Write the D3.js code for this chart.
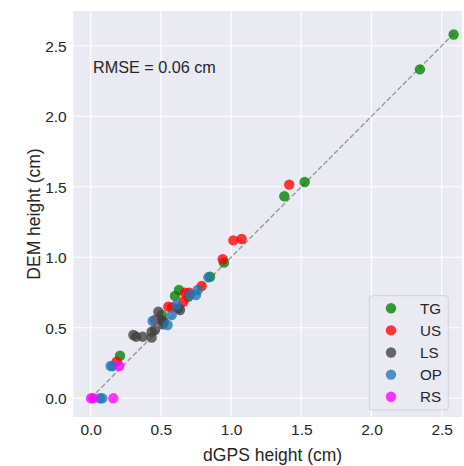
<!DOCTYPE html>
<html>
<head>
<meta charset="utf-8">
<script src="https://cdn.jsdelivr.net/npm/d3@7"></script>
<style>
  html, body { margin: 0; padding: 0; background: #ffffff; }
  svg { display: block; font-family: "Liberation Sans", Arial, sans-serif; }
</style>
</head>
<body>
<svg id="chart" width="464" height="466"></svg>
<script>
// ---- data (dGPS height x, DEM height y), in cm ----
const categories = ["TG", "US", "LS", "OP", "RS"];
const tgX = [2.585, 2.345, 1.524, 1.379, 0.949, 0.850, 0.629, 0.600, 0.695, 0.506, 0.209];
const tgY = [2.580, 2.333, 1.534, 1.433, 0.962, 0.862, 0.768, 0.726, 0.720, 0.591, 0.302];
const usX = [1.414, 1.075, 1.016, 0.940, 0.790, 0.672, 0.702, 0.660, 0.553, 0.580, 0.458, 0.185];
const usY = [1.515, 1.130, 1.120, 0.986, 0.796, 0.749, 0.749, 0.685, 0.650, 0.645, 0.555, 0.260];
const lsX = [0.624, 0.636, 0.482, 0.506, 0.515, 0.458, 0.434, 0.434, 0.370, 0.304, 0.323, 0.520];
const lsY = [0.638, 0.626, 0.614, 0.555, 0.525, 0.484, 0.472, 0.430, 0.437, 0.449, 0.437, 0.545];
const opX = [0.838, 0.762, 0.750, 0.707, 0.612, 0.577, 0.441, 0.548, 0.142, 0.157, 0.066, 0.083];
const opY = [0.858, 0.768, 0.733, 0.733, 0.662, 0.591, 0.548, 0.520, 0.229, 0.229, 0.000, 0.000];
const rsX = [0.204, 0.002, 0.019, 0.161];
const rsY = [0.229, 0.000, 0.000, 0.000];
const xTicks = [0.0, 0.5, 1.0, 1.5, 2.0, 2.5];
const yTicks = [0.0, 0.5, 1.0, 1.5, 2.0, 2.5];
const rmseLabel = "RMSE = 0.06 cm";
const xLabel = "dGPS height (cm)";
const yLabel = "DEM height (cm)";

const colors = { TG: "#008000", US: "#ff0000", LS: "#404040", OP: "#1f77b4", RS: "#ff00ff" };
const seriesX = { TG: tgX, US: usX, LS: lsX, OP: opX, RS: rsX };
const seriesY = { TG: tgY, US: usY, LS: lsY, OP: opY, RS: rsY };

const svg = d3.select("#chart");
const plot = { left: 73.3, right: 462, top: 11, bottom: 417 };

const x = d3.scaleLinear().domain([-0.1239, 2.6446]).range([plot.left, plot.right]);
const y = d3.scaleLinear().domain([-0.1326, 2.7468]).range([plot.bottom, plot.top]);

// background
svg.append("rect")
  .attr("x", plot.left).attr("y", plot.top)
  .attr("width", plot.right - plot.left).attr("height", plot.bottom - plot.top)
  .attr("fill", "#EAEAF2");

// grid
const grid = svg.append("g");
grid.selectAll(".gx").data(xTicks).enter().append("line")
  .attr("x1", d => x(d)).attr("x2", d => x(d))
  .attr("y1", plot.top).attr("y2", plot.bottom)
  .attr("stroke", "#ffffff").attr("stroke-width", 1.1);
grid.selectAll(".gy").data(yTicks).enter().append("line")
  .attr("y1", d => y(d)).attr("y2", d => y(d))
  .attr("x1", plot.left).attr("x2", plot.right)
  .attr("stroke", "#ffffff").attr("stroke-width", 1.1);

// axes (labels only, seaborn darkgrid style)
const xAxis = d3.axisBottom(x).tickValues(xTicks).tickFormat(d3.format(".1f")).tickSize(0).tickPadding(0);
const gx = svg.append("g").attr("transform", `translate(0,${plot.bottom})`).call(xAxis);
gx.select(".domain").remove();
gx.selectAll("text")
  .attr("y", 18).attr("dy", 0)
  .attr("font-size", 15.5).attr("fill", "#262626")
  .attr("font-family", "Liberation Sans, Arial, sans-serif");

const yAxis = d3.axisLeft(y).tickValues(yTicks).tickFormat(d3.format(".1f")).tickSize(0).tickPadding(0);
const gy = svg.append("g").attr("transform", `translate(${plot.left},0)`).call(yAxis);
gy.select(".domain").remove();
gy.selectAll("text")
  .attr("x", -6.6).attr("dy", "0.36em")
  .attr("font-size", 15.5).attr("fill", "#262626")
  .attr("font-family", "Liberation Sans, Arial, sans-serif");

// axis labels
svg.append("text")
  .attr("x", (plot.left + plot.right) / 2 + 5).attr("y", 461)
  .attr("text-anchor", "middle").attr("font-size", 17.5).attr("fill", "#262626")
  .text(xLabel);
svg.append("text")
  .attr("transform", `translate(39.5,${(plot.top + plot.bottom) / 2}) rotate(-90)`)
  .attr("text-anchor", "middle").attr("font-size", 17.5).attr("fill", "#262626")
  .text(yLabel);

// 1:1 line
const allVals = [].concat(tgX, tgY, usX, usY, lsX, lsY, opX, opY, rsX, rsY);
const vmax = d3.max(allVals);
svg.append("line")
  .attr("x1", x(0)).attr("y1", y(0))
  .attr("x2", x(vmax)).attr("y2", y(vmax))
  .attr("stroke", "#999999").attr("stroke-width", 1.4)
  .attr("stroke-dasharray", "5.2,2.3");

// points
categories.forEach(cat => {
  const pts = seriesX[cat].map((v, i) => [v, seriesY[cat][i]]);
  svg.append("g").selectAll("circle").data(pts).enter().append("circle")
    .attr("cx", d => x(d[0])).attr("cy", d => y(d[1]))
    .attr("r", 5.2)
    .attr("fill", colors[cat]).attr("fill-opacity", 0.78);
});

// RMSE annotation
svg.append("text")
  .attr("x", 93).attr("y", 72.7)
  .attr("font-size", 16.2).attr("fill", "#262626")
  .text(rmseLabel);

// legend
const leg = svg.append("g");
leg.append("rect")
  .attr("x", 369.3).attr("y", 295.7).attr("width", 79).attr("height", 114.3)
  .attr("rx", 3).attr("ry", 3)
  .attr("fill", "#EAEAF2").attr("fill-opacity", 0.8)
  .attr("stroke", "#d2d2d8").attr("stroke-width", 1);
categories.forEach((cat, i) => {
  const cy = 308.3 + i * 22.1;
  leg.append("circle").attr("cx", 391).attr("cy", cy).attr("r", 5.2)
    .attr("fill", colors[cat]).attr("fill-opacity", 0.78);
  leg.append("text").attr("x", 420).attr("y", cy + 5.5)
    .attr("font-size", 15.2).attr("fill", "#262626").text(cat);
});
</script>
</body>
</html>
